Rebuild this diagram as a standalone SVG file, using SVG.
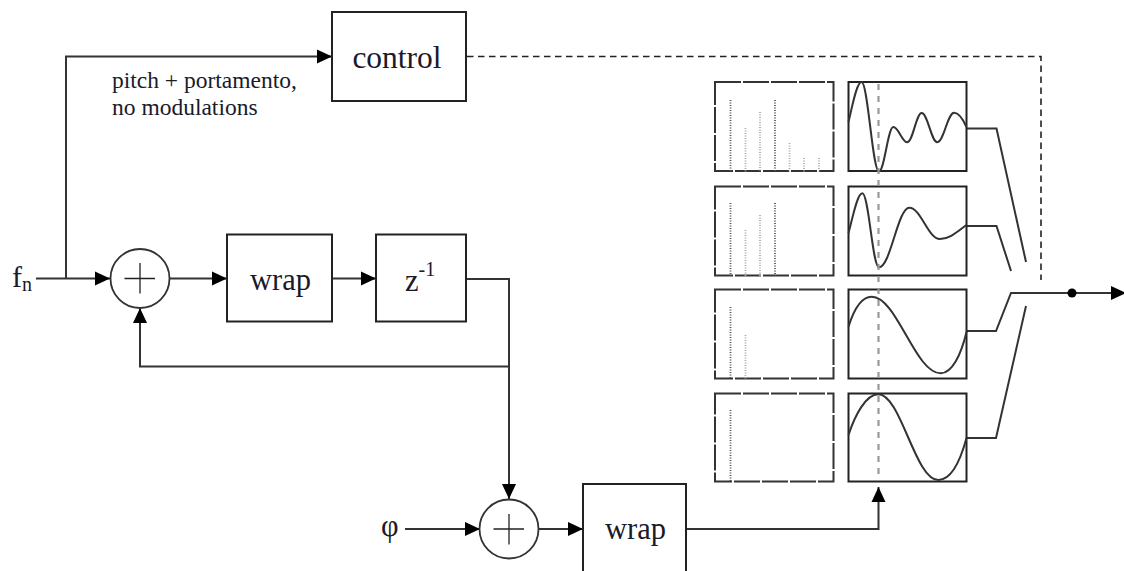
<svg xmlns="http://www.w3.org/2000/svg" width="1124" height="571" viewBox="0 0 1124 571">
<defs>
<marker id="ah" markerUnits="userSpaceOnUse" markerWidth="16" markerHeight="16" refX="15" refY="8" orient="auto"><path d="M0 1 L15 8 L0 15 Z" fill="#000"/></marker>
<style>
.b{fill:#fff;stroke:#222;stroke-width:2}
.c{fill:none;stroke:#333;stroke-width:2}
.d{fill:none;stroke:#222;stroke-width:1.6;stroke-dasharray:6.500 4.500}
.s{fill:#fff;stroke:#333;stroke-width:2;stroke-dasharray:26 2}
.q{stroke:#555;stroke-width:1.8;stroke-dasharray:1 1.500}
.r{stroke:#aaa;stroke-width:1.8;stroke-dasharray:1 1.500}
.w{fill:none;stroke:#333;stroke-width:2}
.g{stroke:#999;stroke-width:2.200;stroke-dasharray:6 6;fill:none}
.o{fill:#fff;stroke:#333;stroke-width:1.800}
.p{stroke:#222;stroke-width:1.300}
text{font-family:"Liberation Serif","Times New Roman",serif;fill:#1a1a2a}
.t{font-size:30.500px}
.l{font-size:23.500px}
</style>
</defs>
<g id="connectors">
<path class="c" d="M36 278.500H110" marker-end="url(#ah)"/>
<path class="c" d="M66 278.500V56.500H332" marker-end="url(#ah)"/>
<path class="c" d="M170 278.500H227" marker-end="url(#ah)"/>
<path class="c" d="M332 278.500H376" marker-end="url(#ah)"/>
<path class="c" d="M466 279H509V499" marker-end="url(#ah)"/>
<path class="c" d="M509 366.500H140V308" marker-end="url(#ah)"/>
<path class="c" d="M405 529H480" marker-end="url(#ah)"/>
<path class="c" d="M538 529H583" marker-end="url(#ah)"/>
<path class="c" d="M686 529H878.500V487" marker-end="url(#ah)"/>
<path class="d" d="M467 56.500H1041V280"/>
<path class="c" d="M966 128.500H996.500L1026 262"/>
<path class="c" d="M966 226H996.500L1011 271"/>
<path class="c" d="M966 331H996L1011 293H1126" marker-end="url(#ah)"/>
<path class="c" d="M966 438H996L1026 306"/>
<circle cx="1072" cy="293" r="4.500" fill="#000"/>
</g>
<g id="control"><rect class="b" x="332" y="12" width="134" height="89"/><text x="397" y="68" font-size="31.500" text-anchor="middle">control</text></g>
<g id="control-label"><text class="l" x="112" y="88">pitch + portamento,</text><text class="l" x="112" y="115">no modulations</text></g>
<g id="fn"><text x="12" y="287" font-size="30">f<tspan font-size="20" dy="4">n</tspan></text></g>
<g id="sum1"><circle class="o" cx="140" cy="278.500" r="29.500"/><path class="p" d="M124.500 278.500H155M140 263V293.500"/></g>
<g id="wrap1"><rect class="b" x="227" y="234.500" width="105" height="87"/><text class="t" x="280.500" y="290" text-anchor="middle">wrap</text></g>
<g id="delay"><rect class="b" x="376" y="234.500" width="90" height="87"/><text class="t" x="405" y="291">z<tspan font-size="20" dy="-15">-1</tspan></text></g>
<g id="phi"><text class="t" x="381" y="536">φ</text></g>
<g id="sum2"><circle class="o" cx="509" cy="529" r="29.500"/><path class="p" d="M493.500 529H524M509 514V544.500"/></g>
<g id="wrap2"><rect class="b" x="583" y="484" width="103" height="95"/><text class="t" x="635.500" y="539" text-anchor="middle">wrap</text></g>
<g id="spectrum1"><rect class="s" x="715" y="82" width="118.500" height="89"/><path class="q" d="M730.500 100V172M775 100V172"/><path class="r" d="M745.500 128V172M760 112V172M789.500 143V172M804 158V172M819 158V172"/></g>
<g id="spectrum2"><rect class="s" x="715" y="186.500" width="118.500" height="89"/><path class="q" d="M730.500 203V276M775 203V276"/><path class="r" d="M745.500 230V276M760 215V276"/></g>
<g id="spectrum3"><rect class="s" x="715" y="289.500" width="118.500" height="89"/><path class="q" d="M730.500 307V379"/><path class="r" d="M745.500 335V379"/></g>
<g id="spectrum4"><rect class="s" x="715" y="393.500" width="118.500" height="88"/><path class="q" d="M730.500 410V482"/></g>
<g id="wave1"><rect class="b" x="848.500" y="82" width="118" height="89"/><path class="w" d="M848.500 122C852 108 856.500 82 861.500 82C868 82 872.400 171.500 879 171.500C884.400 171.500 887.900 127 893.300 127C898.600 127 902 142.300 907.300 142.300C912.800 142.300 916.200 113 921.700 113C927.700 113 931.300 142.300 937.300 142.300C943.700 142.300 947.600 112.700 954 112.700C959 112.700 963 119 966.500 127"/></g>
<g id="wave2"><rect class="b" x="848.500" y="186.500" width="118" height="89"/><path class="w" d="M848.500 233C852 221 857 193.300 862.300 193.300C868.800 193.300 872.500 267.300 879 267.300C890.500 267.300 897.800 207.700 909.300 207.700C921 207.700 928 239 940 239C950 239 958 231 966.500 225"/></g>
<g id="wave3"><rect class="b" x="848.500" y="289.500" width="118" height="89"/><path class="w" d="M848.500 326.700C854 309 862 296.700 871.700 296.700C897 296.700 915 373.300 940.700 373.300C952 373.300 961 355 966.500 332"/></g>
<g id="wave4"><rect class="b" x="848.500" y="393.500" width="118" height="88"/><path class="w" d="M848.500 435C855 415 866 394.300 878.300 394.300C901 394.300 915 480 938.300 480C951 480 960 462 966.500 438"/></g>
<path id="phase-line" class="g" d="M878.500 84V478"/>
</svg>
